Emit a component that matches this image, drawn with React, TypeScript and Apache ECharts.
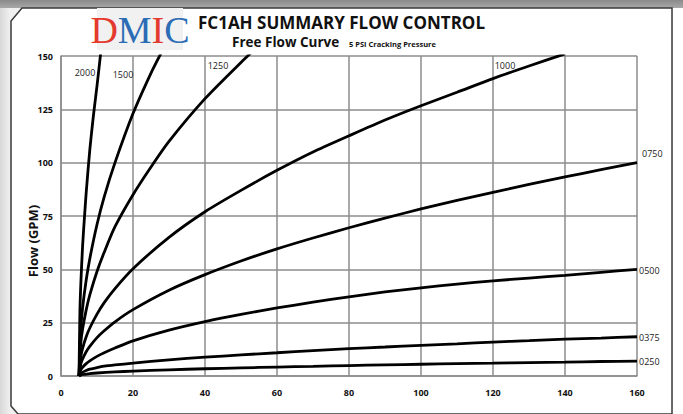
import React, { useEffect, useRef } from "react";
import * as echarts from "echarts";

// Pressure (PSI) readings and flow (GPM) per curve
const x2000 = [5, 5.25, 5.5, 6, 6.5, 7, 8, 9, 10, 11];
const q2000 = [0, 30, 43, 61, 74, 86, 106, 122, 136, 151];
const x1500 = [5, 5.5, 6, 7, 8, 10, 12, 15, 20, 25, 28];
const q1500 = [0, 22, 32, 45, 55, 71, 84, 100, 123, 142, 152];
const x1250 = [5, 5.5, 6, 7, 8, 10, 12, 15, 20, 25, 30, 40, 50, 55];
const q1250 = [0, 15.5, 22, 31, 38, 49, 58, 70, 85, 98, 110, 130, 147, 155];
const x1000 = [5, 5.5, 6, 7, 8, 10, 12, 15, 20, 30, 40, 50, 60, 70, 80, 90, 100, 110, 120, 130, 140];
const q1000 = [0, 9, 13, 18.4, 22.5, 29, 34.4, 41, 50.3, 65, 77, 87, 96.4, 105, 112.6, 120, 126.7, 133, 139.4, 145.3, 151];
const x0750 = [5, 5.5, 6, 7, 8, 10, 12, 15, 20, 30, 40, 50, 60, 70, 80, 90, 100, 110, 120, 130, 140, 150, 160];
const q0750 = [0, 5.7, 8, 11.4, 13.9, 18, 21.2, 25.4, 31.1, 40.2, 47.5, 53.9, 59.6, 64.7, 69.5, 74, 78.3, 82.3, 86.1, 89.8, 93.3, 96.7, 100];
const x0500 = [5, 5.5, 6, 7, 8, 10, 12, 15, 20, 30, 40, 50, 60, 70, 80, 90, 100, 110, 120, 130, 140, 150, 160];
const q0500 = [0, 2.9, 4.1, 5.8, 7.1, 9.2, 10.9, 13.1, 16.5, 21.5, 25.5, 28.9, 31.9, 34.6, 37.1, 39.4, 41.3, 43.1, 44.6, 45.9, 47.2, 48.6, 50];
const x0375 = [5, 5.5, 6, 7, 8, 10, 12, 15, 20, 30, 40, 50, 60, 70, 80, 90, 100, 110, 120, 130, 140, 150, 160];
const q0375 = [0, 1.2, 1.8, 2.6, 3.2, 3.9, 4.6, 5.2, 6.0, 7.6, 8.8, 9.9, 10.9, 11.9, 12.8, 13.6, 14.4, 15.1, 15.9, 16.6, 17.3, 17.8, 18.4];
const x0250 = [5, 6, 8, 10, 15, 20, 30, 40, 50, 60, 70, 80, 90, 100, 110, 120, 130, 140, 150, 160];
const q0250 = [0, 0.7, 1.1, 1.4, 1.9, 2.3, 2.9, 3.4, 3.8, 4.2, 4.5, 4.9, 5.2, 5.5, 5.8, 6.0, 6.3, 6.5, 6.8, 7.0];

const curveNames = ["2000", "1500", "1250", "1000", "0750", "0500", "0375", "0250"];
const curveX = [x2000, x1500, x1250, x1000, x0750, x0500, x0375, x0250];
const curveQ = [q2000, q1500, q1250, q1000, q0750, q0500, q0375, q0250];

const xTicks = [0, 20, 40, 60, 80, 100, 120, 140, 160];
const yTicks = [0, 25, 50, 75, 100, 125, 150];

const title = "FC1AH SUMMARY FLOW CONTROL";
const subtitle = "Free Flow Curve";
const subnote = "5 PSI Cracking Pressure";
const yName = "Flow (GPM)";

export default function App() {
  const ref = useRef<HTMLDivElement>(null);
  useEffect(() => {
    if (!ref.current) return;
    const chart = echarts.init(ref.current, null, { renderer: "svg" });
    const gridColor = "#8c8c8c";
    const font = "'Open Sans', 'Liberation Sans', sans-serif";
    const series: any[] = curveNames.map((n, i) => ({
      name: n,
      type: "line",
      data: curveX[i].map((x, j) => [x, curveQ[i][j]]),
      showSymbol: false,
      smooth: 0.25,
      clip: true,
      lineStyle: { color: "#000", width: 2.8 },
      z: 5,
    }));
    const labelPos: Record<string, [number, number, string]> = {
      "2000": [85, 72, "center"],
      "1500": [123, 74, "center"],
      "1250": [218, 65, "center"],
      "1000": [505, 65, "center"],
      "0750": [642, 153, "left"],
      "0500": [639, 270, "left"],
      "0375": [639, 337, "left"],
      "0250": [639, 361, "left"],
    };
    const curveLabels = curveNames.map((n) => ({
      type: "text",
      x: labelPos[n][0],
      y: labelPos[n][1],
      z: 20,
      style: {
        text: n,
        fill: "#222",
        font: `9px ${font}`,
        textAlign: labelPos[n][2],
        textVerticalAlign: "middle",
      },
    }));
    chart.setOption({
      animation: false,
      backgroundColor: "#ffffff",
      grid: { left: 61, right: 46, top: 56, bottom: 38, containLabel: false },
      xAxis: {
        type: "value",
        min: 0,
        max: 160,
        interval: 20,
        axisLine: { show: true, lineStyle: { color: gridColor, width: 1.5 } },
        axisTick: { show: false },
        splitLine: { show: true, lineStyle: { color: gridColor, width: 1.5 } },
        axisLabel: {
          margin: 12,
          color: "#111",
          fontWeight: "bold",
          fontSize: 9,
          fontFamily: font,
          formatter: (v: number) => (xTicks.includes(v) ? String(v) : ""),
        },
      },
      yAxis: {
        type: "value",
        min: 0,
        max: 150,
        interval: 25,
        axisLine: { show: true, lineStyle: { color: gridColor, width: 1.5 } },
        axisTick: { show: false },
        splitLine: { show: true, lineStyle: { color: gridColor, width: 1.5 } },
        axisLabel: {
          margin: 8,
          color: "#111",
          fontWeight: "bold",
          fontSize: 9,
          fontFamily: font,
          formatter: (v: number) => (yTicks.includes(v) ? String(v) : ""),
        },
      },
      series,
      graphic: [
        {
          type: "rect",
          shape: { x: 0, y: 0, width: 683, height: 414 },
          z: -10,
          silent: true,
          style: {
            fill: new echarts.graphic.LinearGradient(0, 0, 1, 0, [
              { offset: 0, color: "#d8d8d8" },
              { offset: 0.015, color: "#f0f0f0" },
              { offset: 1, color: "#f4f4f4" },
            ]),
          },
        },
        {
          type: "rect",
          shape: { x: 0, y: 0, width: 683, height: 8 },
          z: -9,
          silent: true,
          style: {
            fill: new echarts.graphic.LinearGradient(0, 0, 0, 1, [
              { offset: 0, color: "#8a8a8a" },
              { offset: 1, color: "#a8a8a8" },
            ]),
          },
        },
        {
          type: "polygon",
          shape: {
            points: [
              [22, 8],
              [672, 8],
              [672, 414],
              [18, 414],
              [11, 406],
              [11, 21],
            ],
          },
          z: -8,
          silent: true,
          style: { fill: "#ffffff", stroke: "#3a3a3a", lineWidth: 1.5 },
        },
        {
          type: "rect",
          shape: { x: 673, y: 8, width: 10, height: 406 },
          z: -8,
          silent: true,
          style: { fill: "#ffffff" },
        },
        // logo
        {
          type: "rect",
          shape: { x: 97, y: 8, width: 86, height: 42 },
          z: 10,
          silent: true,
          style: { fill: "#f1f1f1" },
        },
        {
          type: "text",
          x: 140,
          y: 30,
          z: 11,
          style: {
            text: "{r|D}{b|M}{r|I}{b|C}",
            textAlign: "center",
            textVerticalAlign: "middle",
            rich: {
              r: { fill: "#e4392e", font: "38px 'Liberation Serif', serif" },
              b: { fill: "#2b6cb5", font: "38px 'Liberation Serif', serif" },
            },
          },
        },
        {
          type: "text",
          x: 198,
          y: 22,
          z: 10,
          style: {
            text: title,
            fill: "#111",
            font: `bold 17px ${font}`,
            textVerticalAlign: "middle",
          },
        },
        {
          type: "text",
          x: 232,
          y: 42,
          z: 10,
          style: {
            text: subtitle,
            fill: "#111",
            font: `bold 13.5px ${font}`,
            textVerticalAlign: "middle",
          },
        },
        {
          type: "text",
          x: 349,
          y: 43.5,
          z: 10,
          style: {
            text: subnote,
            fill: "#111",
            font: `bold 7.5px ${font}`,
            textVerticalAlign: "middle",
          },
        },
        {
          type: "text",
          x: 33,
          y: 241,
          rotation: Math.PI / 2,
          z: 10,
          style: {
            text: yName,
            fill: "#111",
            font: `bold 13px ${font}`,
            textAlign: "center",
            textVerticalAlign: "middle",
          },
        },
        ...curveLabels,
      ],
    });
    return () => chart.dispose();
  }, []);
  return <div ref={ref} style={{ width: 683, height: 414, position: "absolute", left: 0, top: 0 }} />;
}
